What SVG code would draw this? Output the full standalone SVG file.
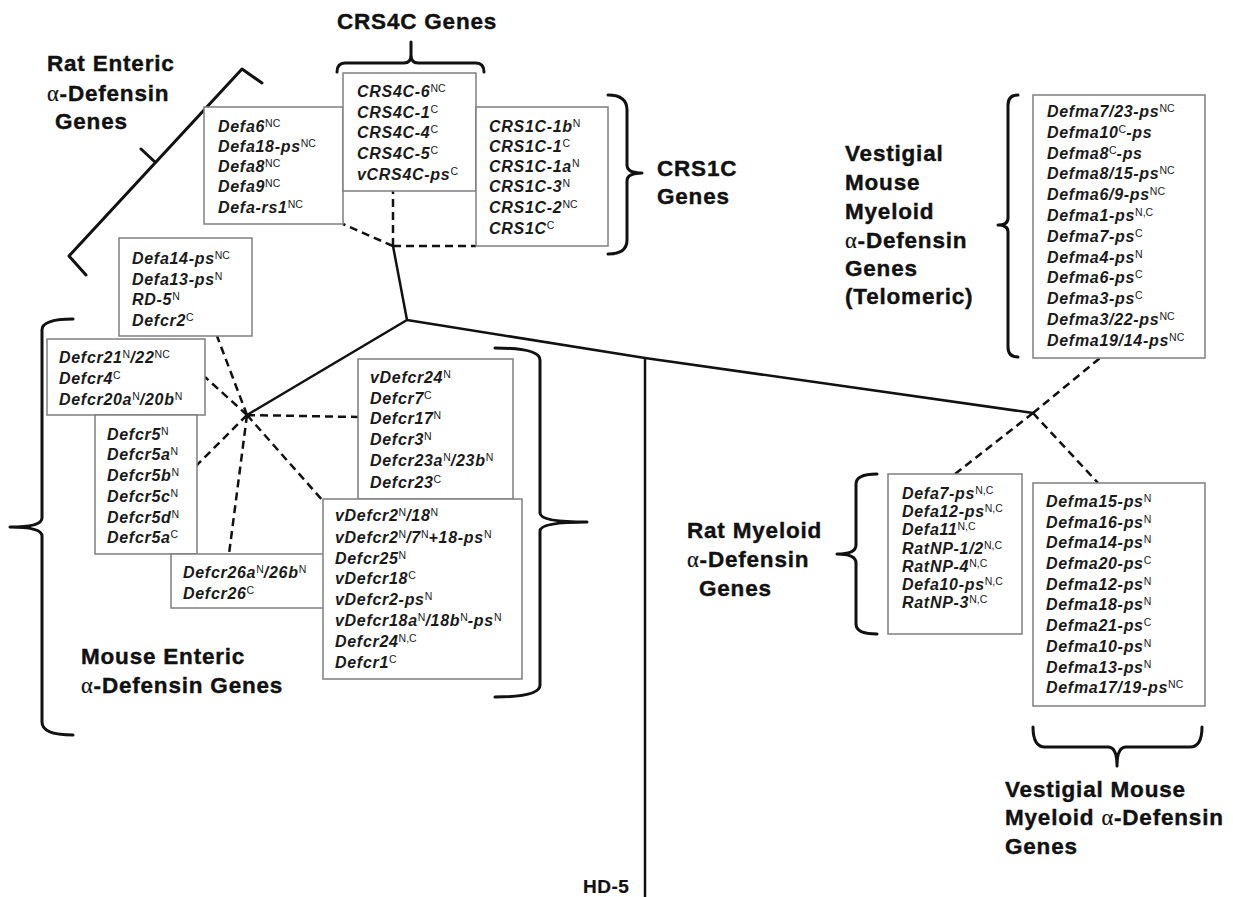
<svg xmlns="http://www.w3.org/2000/svg" width="1233" height="897" viewBox="0 0 1233 897">
<style>
.g{font-family:"Liberation Sans",Arial,sans-serif;font-weight:bold;font-style:italic;font-size:16px;letter-spacing:0.7px;fill:#1a1a1a}
.s{font-size:10.5px;font-weight:normal;font-style:normal;letter-spacing:0}
.lbl{font-family:"Liberation Sans",Arial,sans-serif;font-weight:bold;font-size:22.5px;letter-spacing:0.8px;fill:#111;stroke:#111;stroke-width:0.4px}
.a{font-family:"Liberation Serif",serif;font-weight:normal;stroke-width:0.2px}
.box{fill:#fff;stroke:#7f7f7f;stroke-width:1.5}
.br{fill:none;stroke:#111;stroke-width:3;stroke-linecap:round;stroke-linejoin:round}
.sl{fill:none;stroke:#111;stroke-width:2.5}
.dl{fill:none;stroke:#111;stroke-width:2.5;stroke-dasharray:8 5}
</style>
<rect width="1233" height="897" fill="#fff"/>
<g id="connectors">
<path class="sl" d="M393,246 L407,320 M407,320 L247,415 M407,320 L645,358 L1033,413 M645,358 L645,897"/>
<path class="dl" d="M393,246 L393,191 M393,246 L476,246 M393,246 L343,224"/>
<path class="dl" d="M247,415 L217,336 M247,415 L205,377 M247,415 L195,467 M247,415 L229,554 M247,415 L323,501 M247,415 L358,417"/>
<path class="dl" d="M1033,413 L1100,358 M1033,413 L955,474 M1033,413 L1098,483"/>
</g>
<g id="brackets">
<path class="br" d="M262,83 L242,69 L69,256 L86,275 M155,162 L141,149"/>
<path class="br" d="M337,72 Q337,63 345,63 L404,63 Q411,63 411,55 L411,42 M411,55 Q411,63 418,63 L476,63 Q484,63 484,72"/>
<path class="br" d="M608,95 Q627,95 627,110 L627,165 Q627,173 642,173 Q627,173 627,181 L627,240 Q627,254 608,254"/>
<path class="br" d="M1018,95 Q1008,95 1008,105 L1008,218 Q1008,225 998,225 Q1008,225 1008,232 L1008,347 Q1008,357 1018,357"/>
<path class="br" d="M73,319 Q42,319 42,330 L42,518 Q42,527 10,527 Q42,527 42,536 L42,722 Q42,735 73,735"/>
<path class="br" d="M495,348 Q540,348 540,360 L540,513 Q540,522 587,522 Q540,522 540,531 L540,685 Q540,697 495,697"/>
<path class="br" d="M877,474 Q856,474 856,484 L856,545 Q856,554 837,554 Q856,554 856,563 L856,624 Q856,634 877,634"/>
<path class="br" d="M1033,727 Q1033,747 1045,747 L1108,747 Q1117,747 1117,766 Q1117,747 1126,747 L1190,747 Q1202,747 1202,727"/>
</g>
<g id="labels" class="lbl">
<text x="47" y="71">Rat Enteric</text>
<text x="47" y="101"><tspan class="a">α</tspan>-Defensin</text>
<text x="55" y="129">Genes</text>
<text x="337" y="29">CRS4C Genes</text>
<text x="657" y="176">CRS1C</text>
<text x="657" y="204">Genes</text>
<text x="845" y="161">Vestigial</text>
<text x="845" y="190">Mouse</text>
<text x="845" y="219">Myeloid</text>
<text x="845" y="248"><tspan class="a">α</tspan>-Defensin</text>
<text x="845" y="276">Genes</text>
<text x="845" y="304">(Telomeric)</text>
<text x="81" y="664">Mouse Enteric</text>
<text x="81" y="693"><tspan class="a">α</tspan>-Defensin Genes</text>
<text x="687" y="538">Rat Myeloid</text>
<text x="687" y="567"><tspan class="a">α</tspan>-Defensin</text>
<text x="699" y="596">Genes</text>
<text x="1005" y="797">Vestigial Mouse</text>
<text x="1005" y="825">Myeloid <tspan class="a">α</tspan>-Defensin</text>
<text x="1005" y="854">Genes</text>
<text x="583" y="893" style="font-size:19px;letter-spacing:0.5px;stroke-width:0.2px">HD-5</text>
</g>
<g id="box-defa6" class="g">
<rect class="box" x="204" y="107" width="139" height="117"/>
<text x="218" y="132">Defa6<tspan class="s" dy="-5">NC</tspan></text>
<text x="218" y="152">Defa18-ps<tspan class="s" dy="-5">NC</tspan></text>
<text x="218" y="172">Defa8<tspan class="s" dy="-5">NC</tspan></text>
<text x="218" y="192">Defa9<tspan class="s" dy="-5">NC</tspan></text>
<text x="218" y="213">Defa-rs1<tspan class="s" dy="-5">NC</tspan></text>
</g>
<g id="box-crs4c" class="g">
<rect class="box" x="343" y="73" width="133" height="118"/>
<text x="357" y="97">CRS4C-6<tspan class="s" dy="-5">NC</tspan></text>
<text x="357" y="118">CRS4C-1<tspan class="s" dy="-5">C</tspan></text>
<text x="357" y="138">CRS4C-4<tspan class="s" dy="-5">C</tspan></text>
<text x="357" y="159">CRS4C-5<tspan class="s" dy="-5">C</tspan></text>
<text x="357" y="180">vCRS4C-ps<tspan class="s" dy="-5">C</tspan></text>
</g>
<g id="box-crs1c" class="g">
<rect class="box" x="476" y="107" width="132" height="139"/>
<text x="489" y="132">CRS1C-1b<tspan class="s" dy="-5">N</tspan></text>
<text x="489" y="152">CRS1C-1<tspan class="s" dy="-5">C</tspan></text>
<text x="489" y="172">CRS1C-1a<tspan class="s" dy="-5">N</tspan></text>
<text x="489" y="192">CRS1C-3<tspan class="s" dy="-5">N</tspan></text>
<text x="489" y="213">CRS1C-2<tspan class="s" dy="-5">NC</tspan></text>
<text x="489" y="234">CRS1C<tspan class="s" dy="-5">C</tspan></text>
</g>
<g id="box-defa14" class="g">
<rect class="box" x="119" y="238" width="133" height="98"/>
<text x="132" y="264">Defa14-ps<tspan class="s" dy="-5">NC</tspan></text>
<text x="132" y="285">Defa13-ps<tspan class="s" dy="-5">N</tspan></text>
<text x="132" y="305">RD-5<tspan class="s" dy="-5">N</tspan></text>
<text x="132" y="326">Defcr2<tspan class="s" dy="-5">C</tspan></text>
</g>
<g id="box-defcr21" class="g">
<rect class="box" x="47" y="339" width="158" height="76"/>
<text x="59" y="363">Defcr21<tspan class="s" dy="-5">N</tspan><tspan dy="5">/22</tspan><tspan class="s" dy="-5">NC</tspan></text>
<text x="59" y="384">Defcr4<tspan class="s" dy="-5">C</tspan></text>
<text x="59" y="405">Defcr20a<tspan class="s" dy="-5">N</tspan><tspan dy="5">/20b</tspan><tspan class="s" dy="-5">N</tspan></text>
</g>
<g id="box-defcr5" class="g">
<rect class="box" x="95" y="415" width="102" height="139"/>
<text x="107" y="440">Defcr5<tspan class="s" dy="-5">N</tspan></text>
<text x="107" y="460">Defcr5a<tspan class="s" dy="-5">N</tspan></text>
<text x="107" y="481">Defcr5b<tspan class="s" dy="-5">N</tspan></text>
<text x="107" y="502">Defcr5c<tspan class="s" dy="-5">N</tspan></text>
<text x="107" y="523">Defcr5d<tspan class="s" dy="-5">N</tspan></text>
<text x="107" y="543">Defcr5a<tspan class="s" dy="-5">C</tspan></text>
</g>
<g id="box-defcr26" class="g">
<rect class="box" x="171" y="554" width="154" height="54"/>
<text x="183" y="578">Defcr26a<tspan class="s" dy="-5">N</tspan><tspan dy="5">/26b</tspan><tspan class="s" dy="-5">N</tspan></text>
<text x="183" y="599">Defcr26<tspan class="s" dy="-5">C</tspan></text>
</g>
<g id="box-vdefcr24" class="g">
<rect class="box" x="358" y="359" width="155" height="140"/>
<text x="370" y="383">vDefcr24<tspan class="s" dy="-5">N</tspan></text>
<text x="370" y="404">Defcr7<tspan class="s" dy="-5">C</tspan></text>
<text x="370" y="424">Defcr17<tspan class="s" dy="-5">N</tspan></text>
<text x="370" y="445">Defcr3<tspan class="s" dy="-5">N</tspan></text>
<text x="370" y="466">Defcr23a<tspan class="s" dy="-5">N</tspan><tspan dy="5">/23b</tspan><tspan class="s" dy="-5">N</tspan></text>
<text x="370" y="488">Defcr23<tspan class="s" dy="-5">C</tspan></text>
</g>
<g id="box-vdefcr2" class="g">
<rect class="box" x="323" y="499" width="199" height="180"/>
<text x="335" y="521">vDefcr2<tspan class="s" dy="-5">N</tspan><tspan dy="5">/18</tspan><tspan class="s" dy="-5">N</tspan></text>
<text x="335" y="543">vDefcr2<tspan class="s" dy="-5">N</tspan><tspan dy="5">/7</tspan><tspan class="s" dy="-5">N</tspan><tspan dy="5">+18-ps</tspan><tspan class="s" dy="-5">N</tspan></text>
<text x="335" y="564">Defcr25<tspan class="s" dy="-5">N</tspan></text>
<text x="335" y="584">vDefcr18<tspan class="s" dy="-5">C</tspan></text>
<text x="335" y="605">vDefcr2-ps<tspan class="s" dy="-5">N</tspan></text>
<text x="335" y="626">vDefcr18a<tspan class="s" dy="-5">N</tspan><tspan dy="5">/18b</tspan><tspan class="s" dy="-5">N</tspan><tspan dy="5">-ps</tspan><tspan class="s" dy="-5">N</tspan></text>
<text x="335" y="647">Defcr24<tspan class="s" dy="-5">N,C</tspan></text>
<text x="335" y="668">Defcr1<tspan class="s" dy="-5">C</tspan></text>
</g>
<g id="box-defma-telomeric" class="g">
<rect class="box" x="1033" y="95" width="172" height="263"/>
<text x="1047" y="117">Defma7/23-ps<tspan class="s" dy="-5">NC</tspan></text>
<text x="1047" y="138">Defma10<tspan class="s" dy="-5">C</tspan><tspan dy="5">-ps</tspan></text>
<text x="1047" y="159">Defma8<tspan class="s" dy="-5">C</tspan><tspan dy="5">-ps</tspan></text>
<text x="1047" y="179">Defma8/15-ps<tspan class="s" dy="-5">NC</tspan></text>
<text x="1047" y="200">Defma6/9-ps<tspan class="s" dy="-5">NC</tspan></text>
<text x="1047" y="221">Defma1-ps<tspan class="s" dy="-5">N,C</tspan></text>
<text x="1047" y="242">Defma7-ps<tspan class="s" dy="-5">C</tspan></text>
<text x="1047" y="263">Defma4-ps<tspan class="s" dy="-5">N</tspan></text>
<text x="1047" y="283">Defma6-ps<tspan class="s" dy="-5">C</tspan></text>
<text x="1047" y="304">Defma3-ps<tspan class="s" dy="-5">C</tspan></text>
<text x="1047" y="325">Defma3/22-ps<tspan class="s" dy="-5">NC</tspan></text>
<text x="1047" y="346">Defma19/14-ps<tspan class="s" dy="-5">NC</tspan></text>
</g>
<g id="box-rat-myeloid" class="g">
<rect class="box" x="888" y="474" width="134" height="160"/>
<text x="902" y="499">Defa7-ps<tspan class="s" dy="-5">N,C</tspan></text>
<text x="902" y="517">Defa12-ps<tspan class="s" dy="-5">N,C</tspan></text>
<text x="902" y="535">Defa11<tspan class="s" dy="-5">N,C</tspan></text>
<text x="902" y="554">RatNP-1/2<tspan class="s" dy="-5">N,C</tspan></text>
<text x="902" y="572">RatNP-4<tspan class="s" dy="-5">N,C</tspan></text>
<text x="902" y="590">Defa10-ps<tspan class="s" dy="-5">N,C</tspan></text>
<text x="902" y="608">RatNP-3<tspan class="s" dy="-5">N,C</tspan></text>
</g>
<g id="box-defma15" class="g">
<rect class="box" x="1033" y="483" width="172" height="223"/>
<text x="1046" y="507">Defma15-ps<tspan class="s" dy="-5">N</tspan></text>
<text x="1046" y="528">Defma16-ps<tspan class="s" dy="-5">N</tspan></text>
<text x="1046" y="548">Defma14-ps<tspan class="s" dy="-5">N</tspan></text>
<text x="1046" y="569">Defma20-ps<tspan class="s" dy="-5">C</tspan></text>
<text x="1046" y="590">Defma12-ps<tspan class="s" dy="-5">N</tspan></text>
<text x="1046" y="610">Defma18-ps<tspan class="s" dy="-5">N</tspan></text>
<text x="1046" y="631">Defma21-ps<tspan class="s" dy="-5">C</tspan></text>
<text x="1046" y="652">Defma10-ps<tspan class="s" dy="-5">N</tspan></text>
<text x="1046" y="673">Defma13-ps<tspan class="s" dy="-5">N</tspan></text>
<text x="1046" y="693">Defma17/19-ps<tspan class="s" dy="-5">NC</tspan></text>
</g>
</svg>
